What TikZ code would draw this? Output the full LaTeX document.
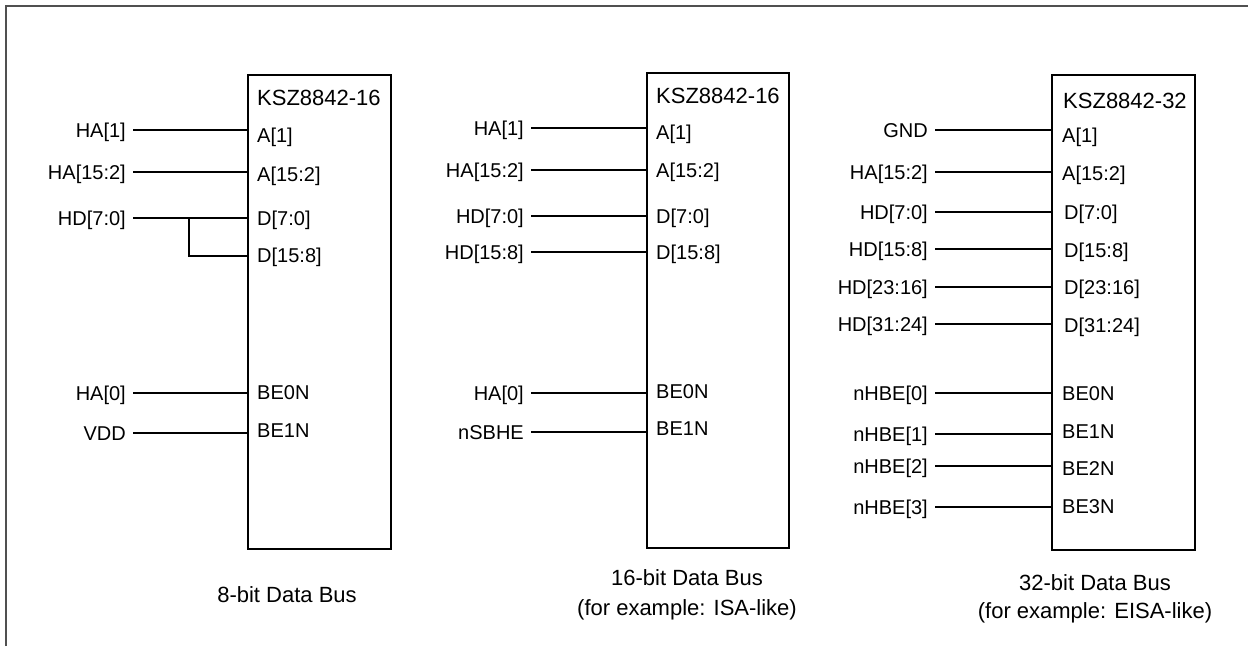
\documentclass[tikz,border=0pt]{standalone}
\usepackage{fontspec}
\setmainfont{Liberation Sans}
\definecolor{framegray}{HTML}{505050}
\tikzset{
  lbl/.style={font=\fontsize{20}{24}\selectfont, text height=14.3pt, text depth=0pt, inner ysep=0pt, inner xsep=0pt},
  inl/.style={lbl, anchor=west},
  outl/.style={lbl, anchor=east, inner xsep=7pt},
  chip/.style={draw, line width=1.8pt, anchor=north west, inner sep=0pt},
  chiptitle/.style={font=\fontsize{22}{26}\selectfont, text height=15.75pt, text depth=0pt, inner sep=0pt, anchor=west},
  capt/.style={font=\fontsize{22}{26}\selectfont, anchor=base, inner sep=0pt},
  wire/.style={line width=1.8pt},
  frame/.style={line width=2pt, draw=framegray}
}
\begin{document}
\begin{tikzpicture}[x=1pt,y=-1pt]
\useasboundingbox (0,0) rectangle (1248,646);
% outer frame (top and left edges)
\coordinate (fa) at (6,646);
\coordinate (fb) at (6,6);
\coordinate (fc) at (1248,6);
\draw[frame] (fa) -- (fb) -- (fc);

% ---------------- Box 1: 8-bit ----------------
\node[chip, minimum width=143pt, minimum height=474pt] (c1) at (247,74) {};
\node[chiptitle] (c1t) at (257,98) {KSZ8842-16};
\node[inl] (c1a1) at (257,135) {A[1]};
\node[inl] (c1a2) at (257,174) {A[15:2]};
\node[inl] (c1d0) at (257,218) {D[7:0]};
\node[inl] (c1d1) at (257,255) {D[15:8]};
\node[inl] (c1b0) at (257,392) {BE0N};
\node[inl] (c1b1) at (257,430) {BE1N};

\node[outl] (h1a1) at (133,130) {HA[1]};
\node[outl] (h1a2) at (133,172) {HA[15:2]};
\node[outl] (h1d0) at (133,218) {HD[7:0]};
\node[outl] (h1b0) at (133,393) {HA[0]};
\node[outl] (h1b1) at (133,433) {VDD};
\draw[wire] (h1a1.east) -- (h1a1.east -| c1.west);
\draw[wire] (h1a2.east) -- (h1a2.east -| c1.west);
\draw[wire] (h1d0.east) -- (h1d0.east -| c1.west);
\coordinate (j1) at (189,218);
\coordinate (j2) at (189,256);
\draw[wire] (j1) -- (j2) -- (j2 -| c1.west);
\draw[wire] (h1b0.east) -- (h1b0.east -| c1.west);
\draw[wire] (h1b1.east) -- (h1b1.east -| c1.west);
\node[capt] (cap1) at (287,602) {8-bit Data Bus};

% ---------------- Box 2: 16-bit ----------------
\node[chip, minimum width=142pt, minimum height=475pt] (c2) at (646,72) {};
\node[chiptitle] (c2t) at (656,96) {KSZ8842-16};
\node[inl] (c2a1) at (656,132) {A[1]};
\node[inl] (c2a2) at (656,170) {A[15:2]};
\node[inl] (c2d0) at (656,216) {D[7:0]};
\node[inl] (c2d1) at (656,252) {D[15:8]};
\node[inl] (c2b0) at (656,391) {BE0N};
\node[inl] (c2b1) at (656,428) {BE1N};

\node[outl] (h2a1) at (531,128) {HA[1]};
\node[outl] (h2a2) at (531,170) {HA[15:2]};
\node[outl] (h2d0) at (531,216) {HD[7:0]};
\node[outl] (h2d1) at (531,252) {HD[15:8]};
\node[outl] (h2b0) at (531,393) {HA[0]};
\node[outl] (h2b1) at (531,432) {nSBHE};
\foreach \n in {h2a1,h2a2,h2d0,h2d1,h2b0,h2b1}
  \draw[wire] (\n.east) -- (\n.east -| c2.west);
\node[capt] (cap2a) at (687,585) {16-bit Data Bus};
\node[capt] (cap2b) at (687,615) {(for example: ISA-like)};

% ---------------- Box 3: 32-bit ----------------
\node[chip, minimum width=143pt, minimum height=475pt] (c3) at (1051,74) {};
\node[chiptitle] (c3t) at (1063,101) {KSZ8842-32};
\node[inl] (c3a1) at (1062,135) {A[1]};
\node[inl] (c3a2) at (1062,173) {A[15:2]};
\node[inl] (c3d0) at (1064,212) {D[7:0]};
\node[inl] (c3d1) at (1064,250) {D[15:8]};
\node[inl] (c3d2) at (1064,287) {D[23:16]};
\node[inl] (c3d3) at (1064,325) {D[31:24]};
\node[inl] (c3b0) at (1062,393) {BE0N};
\node[inl] (c3b1) at (1062,431) {BE1N};
\node[inl] (c3b2) at (1062,468) {BE2N};
\node[inl] (c3b3) at (1062,506) {BE3N};

\node[outl] (h3a1) at (935,130) {GND};
\node[outl] (h3a2) at (935,172) {HA[15:2]};
\node[outl] (h3d0) at (935,212) {HD[7:0]};
\node[outl] (h3d1) at (935,249) {HD[15:8]};
\node[outl] (h3d2) at (935,287) {HD[23:16]};
\node[outl] (h3d3) at (935,324) {HD[31:24]};
\node[outl] (h3b0) at (935,393) {nHBE[0]};
\node[outl] (h3b1) at (935,434) {nHBE[1]};
\node[outl] (h3b2) at (935,466) {nHBE[2]};
\node[outl] (h3b3) at (935,507) {nHBE[3]};
\foreach \n in {h3a1,h3a2,h3d0,h3d1,h3d2,h3d3,h3b0,h3b1,h3b2,h3b3}
  \draw[wire] (\n.east) -- (\n.east -| c3.west);
\node[capt] (cap3a) at (1095,590) {32-bit Data Bus};
\node[capt] (cap3b) at (1095,618) {(for example: EISA-like)};
\end{tikzpicture}
\end{document}
